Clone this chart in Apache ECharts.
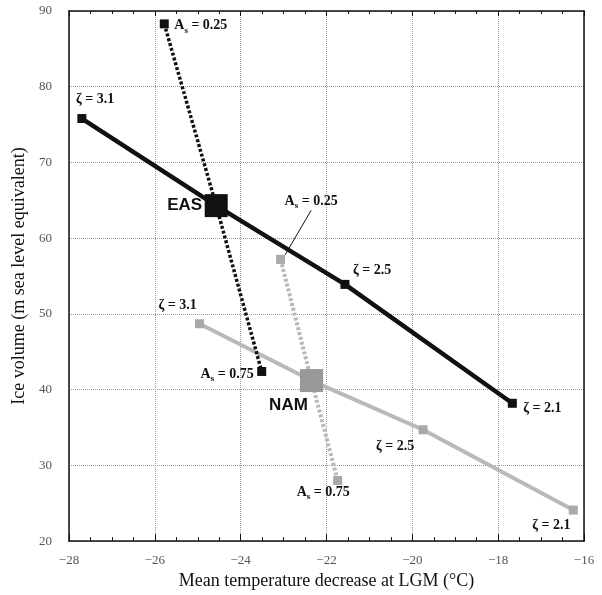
<!DOCTYPE html>
<html><head><meta charset="utf-8">
<script src="https://cdn.jsdelivr.net/npm/echarts@6/dist/echarts.min.js"></script>
<style>html,body{margin:0;padding:0;background:#fff}#c{width:602px;height:595px}</style>
</head><body><div id="c"></div>
<script>
// ---- data ----
const easZetaX = [-27.7, -24.57, -21.57, -17.67];
const easZetaY = [75.8, 64.3, 53.9, 38.2];
const easAsX = [-25.78, -24.57, -23.51];
const easAsY = [88.3, 64.3, 42.4];
const namZetaX = [-24.96, -22.35, -19.75, -16.25];
const namZetaY = [48.7, 41.2, 34.7, 24.1];
const namAsX = [-23.07, -22.35, -21.74];
const namAsY = [57.2, 41.2, 28.0];
const centerNames = ['EAS', 'NAM'];
const zetaLabels = ['3.1', '', '2.5', '2.1'];
const asLabels = ['0.25', '', '0.75'];
const xTicks = [-28, -26, -24, -22, -20, -18, -16];
const yTicks = [20, 30, 40, 50, 60, 70, 80, 90];

const serif = '"Liberation Serif", "DejaVu Serif", serif';
const sans = '"Liberation Sans", "DejaVu Sans", sans-serif';
const BLACK = '#111';
const GRAY = '#b9b9b9';
const GRAY_SQ = '#a9a9a9';

const rich = {
  t: {fontFamily: serif, fontWeight: 'bold', fontSize: 14, color: '#111', lineHeight: 18},
  s: {fontFamily: serif, fontWeight: 'bold', fontSize: 9, color: '#111', lineHeight: 9, verticalAlign: 'bottom'}
};
function zetaText(v) { return '{t|ζ = ' + v + '}'; }
function asText(v) { return '{t|A}{s|s}{t| = ' + v + '}'; }

function lbl(text, off, align) {
  return {show: true, position: 'inside', offset: off, align: align || 'left', verticalAlign: 'middle', formatter: text, rich: rich};
}

// label placements (pixel offsets only)
const easZetaLbl = [lbl(zetaText(zetaLabels[0]), [-6, -19]), null, lbl(zetaText(zetaLabels[2]), [8, -14]), lbl(zetaText(zetaLabels[3]), [11, 5])];
const namZetaLbl = [lbl(zetaText(zetaLabels[0]), [-41, -18]), null, lbl(zetaText(zetaLabels[2]), [-47, 17]), lbl(zetaText(zetaLabels[3]), [-41, 15])];
const easAsLbl = [lbl(asText(asLabels[0]), [10, 2]), null, lbl(asText(asLabels[2]), [-8, 3], 'right')];
const namAsLbl = [null, null, lbl(asText(asLabels[2]), [-41, 12])];

function pts(xs, ys, lbls, sq) {
  return xs.map((x, i) => {
    const d = {value: [x, ys[i]]};
    d.symbolSize = (i === 1) ? 0 : sq;
    if (lbls[i]) d.label = lbls[i];
    return d;
  });
}

const namAsData = pts(namAsX, namAsY, namAsLbl, 9);
namAsData[0].label = lbl(asText(asLabels[0]), [4, -58]);
namAsData[0].labelLine = {show: true, lineStyle: {color: '#111', width: 1}};

const chart = echarts.init(document.getElementById('c'), null, {renderer: 'canvas'});
chart.setOption({
  animation: false,
  backgroundColor: '#fff',
  grid: {left: 69, right: 18, top: 11, bottom: 52},
  xAxis: [{
    type: 'value', min: xTicks[0], max: xTicks[xTicks.length - 1], interval: 2,
    name: 'Mean temperature decrease at LGM (°C)', nameLocation: 'middle', nameGap: 27,
    nameTextStyle: {fontFamily: serif, fontSize: 18, color: '#111'},
    axisLine: {show: true, onZero: false, lineStyle: {color: '#111', width: 1.5}},
    axisTick: {show: true, inside: true, length: 7, lineStyle: {color: '#111'}},
    minorTick: {show: true, splitNumber: 4, length: 4, lineStyle: {color: '#111'}},
    axisLabel: {fontFamily: serif, fontSize: 13, color: '#555', margin: 13,
      formatter: v => (v < 0 ? '\u2212' + (-v) : '' + v)},
    splitLine: {show: true, lineStyle: {color: '#999', type: 'dotted', width: 1}}
  }, {
    type: 'value', position: 'top', min: xTicks[0], max: xTicks[xTicks.length - 1], interval: 2,
    axisLine: {show: true, onZero: false, lineStyle: {color: '#111', width: 1.5}},
    axisTick: {show: true, inside: true, length: 5, lineStyle: {color: '#111'}},
    minorTick: {show: true, splitNumber: 4, length: 3, lineStyle: {color: '#111'}},
    axisLabel: {show: false}, splitLine: {show: false}
  }],
  yAxis: [{
    type: 'value', min: yTicks[0], max: yTicks[yTicks.length - 1], interval: 10,
    name: 'Ice volume (m sea level equivalent)', nameLocation: 'middle', nameGap: 31,
    nameTextStyle: {fontFamily: serif, fontSize: 18, color: '#111'},
    axisLine: {show: true, onZero: false, lineStyle: {color: '#111', width: 1.5}},
    axisTick: {show: false},
    axisLabel: {fontFamily: serif, fontSize: 13, color: '#555', margin: 17},
    splitLine: {show: true, lineStyle: {color: '#999', type: 'dotted', width: 1}}
  }, {
    type: 'value', position: 'right', min: yTicks[0], max: yTicks[yTicks.length - 1], interval: 10,
    axisLine: {show: true, onZero: false, lineStyle: {color: '#111', width: 1.5}},
    axisTick: {show: false}, axisLabel: {show: false}, splitLine: {show: false}
  }],
  series: [
    {
      type: 'line', name: 'NAM zeta', data: pts(namZetaX, namZetaY, namZetaLbl, 9),
      symbol: 'rect', itemStyle: {color: GRAY_SQ}, lineStyle: {color: GRAY, width: 4}, z: 2
    },
    {
      type: 'line', name: 'NAM As', data: namAsData,
      symbol: 'rect', itemStyle: {color: GRAY_SQ}, lineStyle: {color: GRAY, width: 4, type: [3, 2]}, z: 2
    },
    {
      type: 'line', name: 'EAS zeta', data: pts(easZetaX, easZetaY, easZetaLbl, 9),
      symbol: 'rect', itemStyle: {color: BLACK}, lineStyle: {color: BLACK, width: 4.5}, z: 3
    },
    {
      type: 'line', name: 'EAS As', data: pts(easAsX, easAsY, easAsLbl, 9),
      symbol: 'rect', itemStyle: {color: BLACK}, lineStyle: {color: BLACK, width: 3.5, type: [3, 2]}, z: 3
    },
    {
      type: 'scatter', name: 'centers', symbol: 'rect', symbolSize: 23, z: 4,
      itemStyle: {opacity: 1},
      data: [
        {value: [easZetaX[1], easZetaY[1]], itemStyle: {color: BLACK, opacity: 1},
          label: {show: true, position: 'inside', align: 'right', verticalAlign: 'middle', offset: [-14, 0],
            formatter: centerNames[0], fontFamily: sans, fontWeight: 'bold', fontSize: 17, color: '#111'}},
        {value: [namZetaX[1], namZetaY[1]], itemStyle: {color: '#999', opacity: 1},
          label: {show: true, position: 'inside', align: 'center', verticalAlign: 'middle', offset: [-23, 25],
            formatter: centerNames[1], fontFamily: sans, fontWeight: 'bold', fontSize: 17, color: '#111'}}
      ]
    }
  ]
});
</script></body></html>
